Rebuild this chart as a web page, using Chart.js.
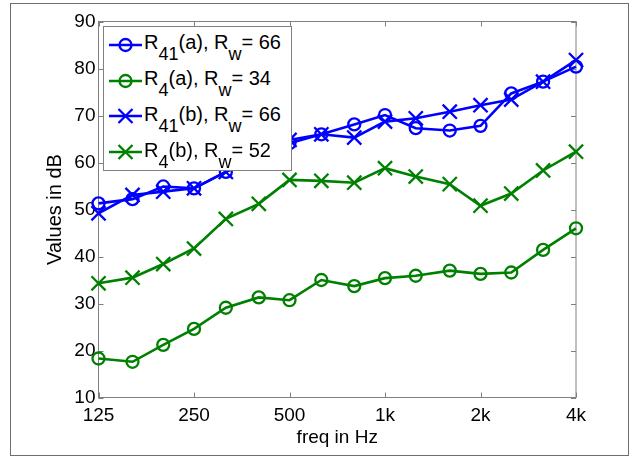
<!DOCTYPE html>
<html>
<head>
<meta charset="utf-8">
<script src="https://cdn.jsdelivr.net/npm/chart.js@4.4.1/dist/chart.umd.min.js"></script>
<style>
body{margin:0;background:#fff;}
#wrap{position:relative;width:638px;height:457px;}
#frame{position:absolute;left:10px;top:3px;width:619px;height:453px;border:1px solid #6e6e6e;box-sizing:border-box;pointer-events:none;}
#legend{position:absolute;left:103px;top:26px;width:189px;height:145px;border:1px solid #808080;background:#fff;box-sizing:border-box;font-family:"Liberation Sans",Arial,sans-serif;font-size:20px;color:#000;}
#legend svg{position:absolute;left:0;}
#legend .txt{position:absolute;left:40px;line-height:20px;white-space:nowrap;}
#legend sub{font-size:18px;vertical-align:-11px;line-height:0;}
</style>
</head>
<body>
<div id="wrap">
  <canvas id="chart" width="638" height="457"></canvas>
  <div id="frame"></div>
  <div id="legend"></div>
</div>
<script>
// Data
const freqs = [125, 160, 200, 250, 315, 400, 500, 630, 800, 1000, 1250, 1600, 2000, 2500, 3150, 4000];
const r41a = [51.3, 52.2, 54.9, 54.5, 58.0, 61.0, 64.1, 66.0, 68.1, 70.1, 67.3, 66.8, 67.8, 74.7, 77.2, 80.4];
const r4a  = [18.3, 17.6, 21.2, 24.6, 29.1, 31.3, 30.7, 35.0, 33.7, 35.4, 35.9, 37.0, 36.3, 36.6, 41.4, 46.0];
const r41b = [49.2, 53.1, 53.8, 54.5, 58.0, 61.5, 64.8, 66.0, 65.3, 68.7, 69.4, 70.8, 72.2, 73.4, 77.2, 81.8];
const r4b  = [34.3, 35.5, 38.4, 41.7, 48.0, 51.2, 56.3, 56.1, 55.7, 58.8, 57.0, 55.4, 50.8, 53.4, 58.3, 62.3];

const xTicks = [125, 250, 500, 1000, 2000, 4000];
const xTickLabels = ["125", "250", "500", "1k", "2k", "4k"];
const yMin = 10, yMax = 90, yStep = 10;

const seriesLabels = [
  "R<sub>41</sub>(a), R<sub>w</sub>= 66",
  "R<sub>4</sub>(a), R<sub>w</sub>= 34",
  "R<sub>41</sub>(b), R<sub>w</sub>= 66",
  "R<sub>4</sub>(b), R<sub>w</sub>= 52"
];
const seriesData = [r41a, r4a, r41b, r4b];
const seriesColors = ["#0000ff", "#008000", "#0000ff", "#008000"];
const seriesMarkers = ["circle", "circle", "crossRot", "crossRot"];

const FONT = '"Liberation Sans", Arial, sans-serif';
const AXIS_COLOR = "#808080";

// Box + inward ticks like MATLAB
const axesBox = {
  id: "axesBox",
  beforeDatasetsDraw(chart){
    const {ctx, chartArea: a, scales} = chart;
    ctx.save();
    ctx.strokeStyle = AXIS_COLOR;
    ctx.lineWidth = 1;
    ctx.strokeRect(a.left, a.top, a.right - a.left, a.bottom - a.top);
    ctx.beginPath();
    scales.x.ticks.forEach(t => {
      const px = Math.round(scales.x.getPixelForValue(t.value)) + 0.5;
      ctx.moveTo(px, a.bottom); ctx.lineTo(px, a.bottom - 5);
      ctx.moveTo(px, a.top); ctx.lineTo(px, a.top + 5);
    });
    scales.y.ticks.forEach(t => {
      const py = Math.round(scales.y.getPixelForValue(t.value)) + 0.5;
      ctx.moveTo(a.left, py); ctx.lineTo(a.left + 5, py);
      ctx.moveTo(a.right, py); ctx.lineTo(a.right - 5, py);
    });
    ctx.stroke();
    ctx.restore();
  }
};

const datasets = seriesData.map((vals, i) => ({
  label: seriesLabels[i],
  data: freqs.map((f, j) => ({x: f, y: vals[j]})),
  borderColor: seriesColors[i],
  pointBorderColor: seriesColors[i],
  pointBackgroundColor: "rgba(0,0,0,0)",
  borderWidth: 2.6,
  pointBorderWidth: 2.3,
  pointStyle: seriesMarkers[i],
  pointRadius: seriesMarkers[i] === "circle" ? 6 : 10,
  tension: 0,
  clip: false
}));

new Chart(document.getElementById("chart"), {
  type: "line",
  data: {datasets},
  options: {
    responsive: false,
    animation: false,
    layout: {padding: {top: 21.5, right: 62, left: 0, bottom: 0}},
    plugins: {legend: {display: false}, tooltip: {enabled: false}},
    scales: {
      x: {
        type: "logarithmic",
        min: 125, max: 4000,
        afterBuildTicks: s => { s.ticks = xTicks.map(v => ({value: v})); },
        afterFit: s => { s.height = 59.5; },
        grid: {display: false, drawTicks: false},
        border: {display: false},
        ticks: {
          autoSkip: false, maxRotation: 0, padding: 7, color: "#000",
          font: {family: FONT, size: 19},
          callback: v => xTickLabels[xTicks.indexOf(v)]
        },
        title: {display: true, text: "freq in Hz", color: "#000", font: {family: FONT, size: 19}, padding: {top: 0, bottom: 8}}
      },
      y: {
        min: yMin, max: yMax,
        afterFit: s => { s.width = 98.5; },
        grid: {display: false, drawTicks: false},
        border: {display: false},
        ticks: {stepSize: yStep, padding: 3, color: "#000", font: {family: FONT, size: 19}},
        title: {display: true, text: "Values in dB", color: "#000", font: {family: FONT, size: 20}, padding: {top: 43, bottom: 0}}
      }
    }
  },
  plugins: [axesBox]
});

// Legend (HTML so the subscripts stay real text)
const legendEl = document.getElementById("legend");
seriesLabels.forEach((lbl, i) => {
  const yc = 18 + 35.7 * i;
  const c = seriesColors[i];
  const marker = seriesMarkers[i] === "circle"
    ? `<circle cx="21.5" cy="10" r="6" fill="none" stroke="${c}" stroke-width="2.3"/>`
    : `<path d="M14.5 3 L28.5 17 M28.5 3 L14.5 17" stroke="${c}" stroke-width="2.3"/>`;
  const svg = document.createElementNS("http://www.w3.org/2000/svg", "svg");
  svg.setAttribute("width", "40");
  svg.setAttribute("height", "20");
  svg.style.top = (yc - 10) + "px";
  svg.innerHTML = `<line x1="5" y1="10" x2="38" y2="10" stroke="${c}" stroke-width="2.6"/>` + marker;
  legendEl.appendChild(svg);
  const t = document.createElement("div");
  t.className = "txt";
  t.style.top = (yc + 4.3 - 16.9) + "px";
  t.innerHTML = lbl;
  legendEl.appendChild(t);
});
</script>
</body>
</html>
